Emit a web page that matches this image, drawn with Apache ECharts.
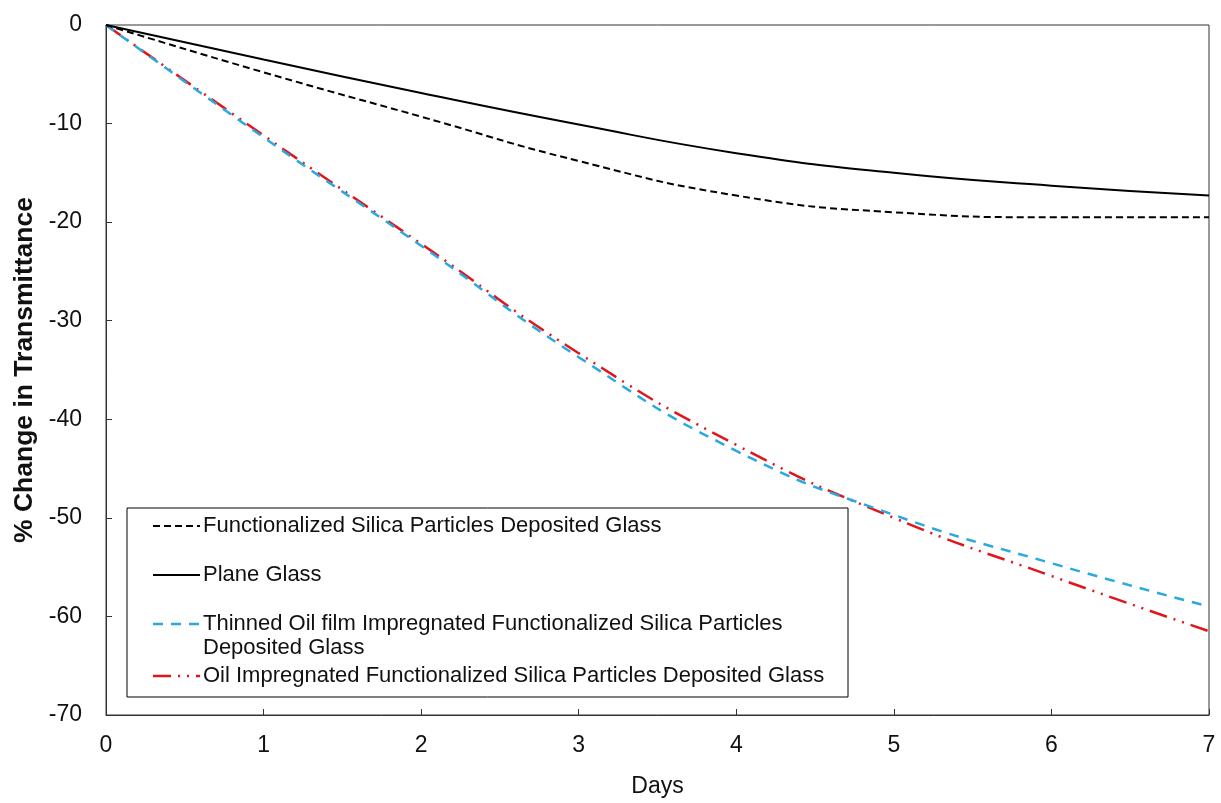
<!DOCTYPE html>
<html>
<head>
<meta charset="utf-8">
<script src="https://cdn.jsdelivr.net/npm/echarts@6/dist/echarts.min.js"></script>
<style>
  html, body { margin: 0; padding: 0; background: #fff; }
  #chart { width: 1221px; height: 803px; }
</style>
</head>
<body>
<div id="chart"></div>
<script>
// data (days 0..7)
var days = [0, 1, 2, 3, 4, 5, 6, 7];
var fspdGlass = [0, -4.8, -9.3, -13.8, -17.3, -19.0, -19.5, -19.5];
var planeGlass = [0, -3.5, -6.9, -10.1, -13.0, -15.0, -16.3, -17.3];
var thinnedOil = [0, -11.4, -22.4, -33.7, -43.2, -49.7, -54.6, -59.0];
var oilImpreg = [0, -11.2, -22.2, -33.3, -42.6, -50.0, -55.9, -61.5];

var seriesNames = [
  'Functionalized Silica Particles Deposited Glass',
  'Plane Glass',
  'Thinned Oil film Impregnated Functionalized Silica Particles\nDeposited Glass',
  'Oil Impregnated Functionalized Silica Particles Deposited Glass'
];
var seriesValues = [fspdGlass, planeGlass, thinnedOil, oilImpreg];

var FONT = '"Liberation Sans", Arial, sans-serif';

// line styles, shared by the series and the hand drawn legend
var styles = [
  { color: '#000', width: 2, type: [7, 4] },
  { color: '#000', width: 2, type: 'solid' },
  { color: '#29a9e0', width: 2.5, type: [10, 8] },
  { color: '#e0161c', width: 2.5, type: [18, 7, 2, 7, 2, 7] }
];

function pairs(vals) {
  return days.map(function (d, i) { return [d, vals[i]]; });
}

var series = seriesValues.map(function (vals, i) {
  return {
    name: seriesNames[i],
    type: 'line',
    smooth: true,
    symbol: 'none',
    data: pairs(vals),
    lineStyle: styles[i],
    itemStyle: { color: styles[i].color },
    z: 10 - i
  };
});

// legend box (drawn as graphic so the two-line entry sits like the original)
var legendBox = { x: 127, y: 508, w: 721, h: 189 };
var rowY = [526, 575, 624, 676];
var legendGraphic = [{
  type: 'rect',
  shape: { x: legendBox.x, y: legendBox.y, width: legendBox.w, height: legendBox.h },
  style: { fill: '#fff', stroke: '#000', lineWidth: 1 },
  z: 100
}];
seriesNames.forEach(function (name, i) {
  var st = styles[i];
  legendGraphic.push({
    type: 'line',
    shape: { x1: 153, y1: rowY[i], x2: 200, y2: rowY[i] },
    style: {
      stroke: st.color,
      lineWidth: st.width,
      lineDash: st.type === 'solid' ? null : st.type
    },
    z: 101
  });
  legendGraphic.push({
    type: 'text',
    x: 203,
    y: rowY[i] - 12,
    style: {
      text: name,
      font: '22px ' + FONT,
      fill: '#111',
      lineHeight: 24,
      textVerticalAlign: 'top'
    },
    z: 101
  });
});

var chart = echarts.init(document.getElementById('chart'));
var option = {
  backgroundColor: '#fff',
  animation: false,
  grid: {
    left: 106, right: 12, top: 25, bottom: 86,
    show: true, borderColor: '#333', borderWidth: 1
  },
  xAxis: {
    type: 'value',
    min: 0, max: 7, interval: 1,
    name: 'Days',
    nameLocation: 'middle',
    nameGap: 60,
    nameTextStyle: { fontFamily: FONT, fontSize: 23, color: '#111' },
    axisLine: { onZero: false, lineStyle: { color: '#333', width: 1 } },
    axisTick: { inside: true, length: 6, lineStyle: { color: '#333' } },
    axisLabel: { fontFamily: FONT, fontSize: 23, color: '#111', margin: 19 },
    splitLine: { show: false }
  },
  yAxis: {
    type: 'value',
    min: -70, max: 0, interval: 10,
    name: '% Change in Transmittance',
    nameLocation: 'middle',
    nameGap: 66,
    nameTextStyle: { fontFamily: FONT, fontSize: 26.5, fontWeight: 'bold', color: '#111' },
    axisLine: { show: true, onZero: false, lineStyle: { color: '#333', width: 1 } },
    axisTick: { show: true, inside: true, length: 6, lineStyle: { color: '#333' } },
    axisLabel: { fontFamily: FONT, fontSize: 23, color: '#111', margin: 24 },
    splitLine: { show: false }
  },
  series: series,
  graphic: legendGraphic
};
chart.setOption(option);
</script>
</body>
</html>
